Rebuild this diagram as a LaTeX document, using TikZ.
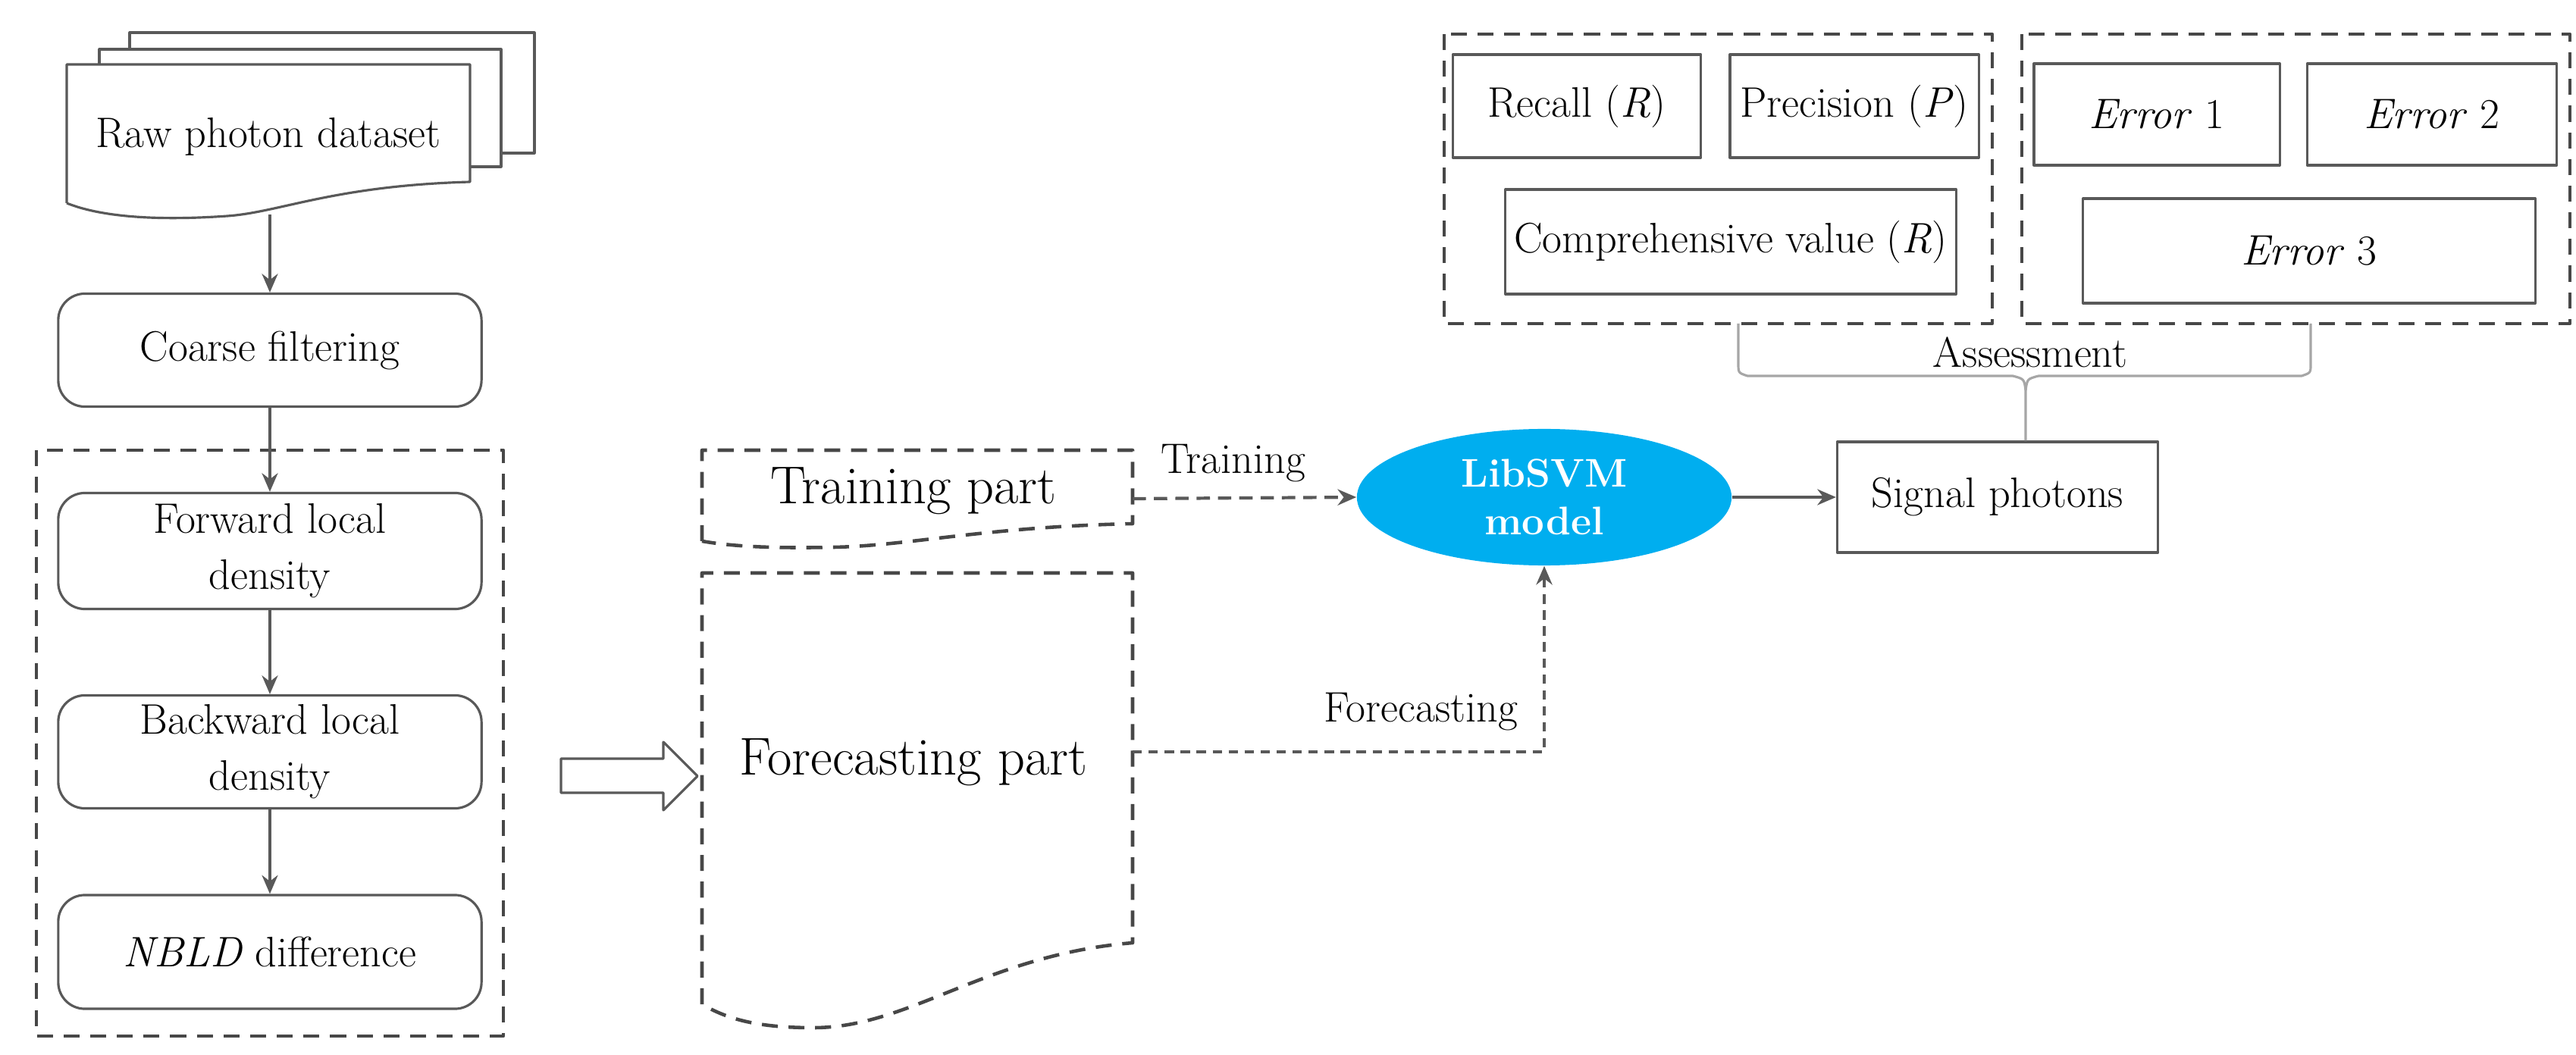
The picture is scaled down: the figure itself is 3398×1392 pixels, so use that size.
\documentclass[tikz,border=0pt]{standalone}
\usetikzlibrary{shapes.geometric,arrows.meta}
\definecolor{ln}{gray}{0.35}
\definecolor{svmblue}{RGB}{0,174,239}
\tikzset{
  every picture/.style={line join=round},
  box/.style={draw=ln, line width=0.9pt, fill=white, align=center, inner sep=2pt},
  rbox/.style={box, rounded corners=0.35cm},
  dbox/.style={draw=ln!80!black, line width=1.3pt, dash pattern=on 6pt off 4pt},
  conn/.style={draw=ln, line width=0.9pt, -{Stealth[length=7pt,width=6pt]}},
  dconn/.style={conn, dash pattern=on 5pt off 3pt, line width=1.2pt},
  lbl/.style={font=\fontsize{16}{19}\selectfont},
}
\begin{document}
\begin{tikzpicture}[x=0.01cm,y=-0.01cm]
\useasboundingbox (0,0) rectangle (3398,1392);
% document stack
\draw[ln, line width=0.9pt, fill=white] (171,202) -- (171,43) -- (705,43) -- (705,202) -- cycle;
\draw[ln, line width=0.9pt, fill=white] (131,220) -- (131,65) -- (661,65) -- (661,220) -- cycle;
\draw[ln, line width=0.9pt, fill=white] (88,268) -- (88,85) -- (620,85) -- (620,240)
  .. controls (440,245) and (370,280) .. (300,285) .. controls (200,292) and (130,285) .. (88,268);
\node[lbl] (raw) at (354,180) {Raw photon dataset};
\coordinate (rawb) at (356,283);
% left column
\node[rbox, minimum width=5.58cm, minimum height=1.49cm, lbl] (coarse) at (356,462) {Coarse filtering};
\draw[dbox] (48,594) rectangle (664,1367);
\node[rbox, minimum width=5.58cm, minimum height=1.53cm, lbl] (fwd) at (356,727) {Forward local\\[2pt]density};
\node[rbox, minimum width=5.58cm, minimum height=1.49cm, lbl] (bwd) at (356,992) {Backward local\\[2pt]density};
\node[rbox, minimum width=5.58cm, minimum height=1.50cm, lbl] (nbld) at (356,1256) {\textit{NBLD} difference};
\draw[conn] (rawb) -- (coarse);
\draw[conn] (coarse) -- (fwd);
\draw[conn] (fwd) -- (bwd);
\draw[conn] (bwd) -- (nbld);
% hollow arrow
\draw[ln, line width=0.9pt, fill=white] (740,1001) -- (875,1001) -- (875,979) -- (920,1024) -- (875,1069) -- (875,1046) -- (740,1046) -- cycle;
% training part
\draw[dbox] (926,714) -- (926,594) -- (1494,594) -- (1494,691)
  .. controls (1300,695) and (1200,720) .. (1100,722) .. controls (1010,724) and (960,720) .. (926,714);
\node[font=\fontsize{20}{24}\selectfont] (train) at (1205,648) {Training part};
% forecasting part
\draw[dbox] (926,1325) -- (926,756) -- (1494,756) -- (1494,1244)
  .. controls (1300,1260) and (1200,1356) .. (1073,1356) .. controls (1000,1356) and (960,1345) .. (926,1325);
\node[font=\fontsize{20}{24}\selectfont] (fore) at (1205,1006) {Forecasting part};
% svm
\node[ellipse, fill=svmblue, minimum width=4.94cm, minimum height=1.8cm, text=white, align=center,
  font=\bfseries\fontsize{15}{18}\selectfont] (svm) at (2037,656) {LibSVM\\model};
\coordinate (trs) at (1494,658);
\coordinate (fcs) at (1494,992);
\draw[dconn] (trs) -- node[above, lbl, pos=0.45, yshift=2pt] {Training} (svm.west);
\draw[dconn, dash pattern=on 3.5pt off 2.5pt] (fcs) -| node[pos=0.35, above, lbl, yshift=4pt] {Forecasting} (svm.south);
% signal photons
\node[box, minimum width=4.23cm, minimum height=1.46cm, lbl] (sig) at (2635,656) {Signal photons};
\draw[conn] (svm.east) -- (sig.west);
% metrics
\draw[dbox] (1905,45) rectangle (2628,427);
\draw[dbox] (2667,45) rectangle (3390,427);
\node[box, minimum width=3.27cm, minimum height=1.36cm, lbl] (rec) at (2080,140) {Recall (\textit{R})};
\node[box, minimum width=3.28cm, minimum height=1.36cm, lbl] (pre) at (2446,140) {Precision (\textit{P})};
\node[box, minimum width=5.94cm, minimum height=1.38cm, lbl] (comp) at (2283,319) {Comprehensive value (\textit{R})};
\node[box, minimum width=3.24cm, minimum height=1.34cm, lbl] (e1) at (2845,151) {\textit{Error} 1};
\node[box, minimum width=3.29cm, minimum height=1.34cm, lbl] (e2) at (3208,151) {\textit{Error} 2};
\node[box, minimum width=5.96cm, minimum height=1.38cm, lbl] (e3) at (3046,331) {\textit{Error} 3};
% brace
\coordinate (bt) at (sig.north -| 2672,0);
\draw[gray!70, line width=0.9pt] (2293,427) -- (2293,480) .. controls (2293,492) .. (2305,496) -- (2655,496)
  .. controls (2670,500) .. (2672,515) -- (bt);
\draw[gray!70, line width=0.9pt] (3048,427) -- (3048,480) .. controls (3048,492) .. (3036,496) -- (2689,496)
  .. controls (2674,500) .. (2672,515);
\node[lbl] (ass) at (2678,465) {Assessment};
\end{tikzpicture}
\end{document}
